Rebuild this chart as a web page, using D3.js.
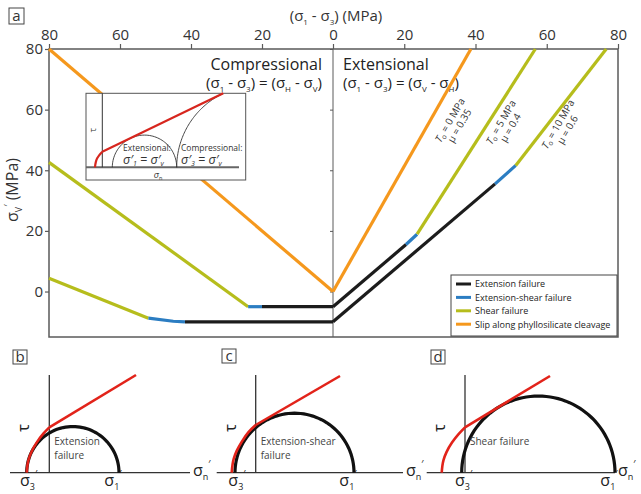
<!DOCTYPE html>
<html>
<head>
<meta charset="utf-8">
<script src="https://cdn.jsdelivr.net/npm/d3@7"></script>
<style>
body { margin: 0; background: #fff; }
svg { font-family: "Open Sans", sans-serif; }
</style>
</head>
<body>
<svg id="chart" width="641" height="494"></svg>
<script>
// tick labels of panel a
const compTicks = [80, 60, 40, 20, 0];
const extTicks = [20, 40, 60, 80];
const yTicks = [0, 20, 40, 60, 80];

// failure types in legend order
const failureTypes = ['Extension failure', 'Extension-shear failure', 'Shear failure', 'Slip along phyllosilicate cleavage'];
const failureColors = ['#1c1c1c', '#2b7dc2', '#b6bd1c', '#f5981d'];

// segments: [side, type, points as (σ1-σ3, σv')]
const segT0 = [
  ['comp', 3, [[80, 80], [0, 0]]],
  ['ext', 3, [[0, 0], [38.7, 80]]]
];
const segT5 = [
  ['comp', 2, [[80, 42.6], [23.9, -5]]],
  ['comp', 1, [[23.9, -5], [20, -5]]],
  ['comp', 0, [[20, -5], [0, -5]]],
  ['ext', 0, [[0, -5], [20.5, 15.5]]],
  ['ext', 1, [[20.5, 15.5], [23.6, 18.9]]],
  ['ext', 2, [[23.6, 18.9], [56.8, 80]]]
];
const segT10 = [
  ['comp', 2, [[80, 4.4], [52, -8.8]]],
  ['comp', 1, [[52, -8.8], [45, -9.8], [41.7, -10]]],
  ['comp', 0, [[41.7, -10], [0, -10]]],
  ['ext', 0, [[0, -10], [45.5, 35.5]]],
  ['ext', 1, [[45.5, 35.5], [51.3, 41.6]]],
  ['ext', 2, [[51.3, 41.6], [76.7, 80]]]
];
// line labels (T0, mu)
const lineT0 = ['0', '5', '10'];
const lineMu = ['0.35', '0.4', '0.6'];

// inset: envelope and Mohr circles (σn', τ)
const insetEnv = [[-7.3, 0], [-6.5, 5.2], [-5, 9.2], [-3, 12.2], [0, 15.6]];
const insetEnvEnd = [121, 74];
const insetCircleExt = [10, 74.4];
const insetCircleComp = [74.4, 238.4];

// panels b, c, d
const panelNames = ['b', 'c', 'd'];
const panelText = [['Extension', 'failure'], ['Extension-shear', 'failure'], ['Shear failure']];
const circleS3 = [-22.6, -20.7, -3.3];
const circleS1 = [69.7, 98.3, 150];
const envB = [[-22.6, 0], [-21, 12.1], [-18, 20.5], [-13, 29.6], [-6, 39.1], [0, 45.4], [86.7, 97.7]];
const envC = [[-24, 0], [-22, 13.8], [-19, 21.8], [-14, 30.8], [-7, 40.8], [0, 47.7], [84.3, 96.7]];
const envD = [[-23.3, 0], [-21.5, 12.6], [-18.5, 20.6], [-13, 30.2], [-6, 39.1], [0, 45.4], [85, 96.7]];

const svg = d3.select('#chart');
const grey = '#5a5a5a';

// ---------- panel a ----------
const xComp = d3.scaleLinear().domain([80, 0]).range([49, 333]);
const xExt = d3.scaleLinear().domain([0, 80]).range([333, 618]);
const y = d3.scaleLinear().domain([-15, 80]).range([337, 49]);

svg.append('rect')
  .attr('x', 49).attr('y', 49).attr('width', 569).attr('height', 288)
  .attr('fill', 'none').attr('stroke', grey).attr('stroke-width', 1.5);

function styleAxis(g) {
  g.select('.domain').remove();
  g.selectAll('line').attr('stroke', grey).attr('stroke-width', 1.2);
  g.selectAll('text').attr('font-size', 15).attr('fill', '#333').attr('font-family', 'Open Sans');
}
svg.append('g').attr('transform', 'translate(0,49)')
  .call(d3.axisTop(xComp).tickValues(compTicks).tickSize(5).tickPadding(4)).call(styleAxis);
svg.append('g').attr('transform', 'translate(0,49)')
  .call(d3.axisTop(xExt).tickValues(extTicks).tickSize(5).tickPadding(4)).call(styleAxis);
svg.append('g').attr('transform', 'translate(49,0)')
  .call(d3.axisLeft(y).tickValues(yTicks).tickSize(4).tickPadding(2)).call(styleAxis);
// centre axis
svg.append('line').attr('x1', 333).attr('x2', 333).attr('y1', 49).attr('y2', 337)
  .attr('stroke', grey).attr('stroke-width', 1);
svg.append('g').attr('transform', 'translate(333,0)')
  .call(d3.axisLeft(y).tickValues(yTicks).tickSize(3).tickFormat(''))
  .call(g => { g.select('.domain').remove(); g.selectAll('line').attr('stroke', grey); });

// titles
const xTitle = svg.append('text').attr('x', 336).attr('y', 21).attr('text-anchor', 'middle')
  .attr('font-size', 15).attr('fill', '#333');
xTitle.append('tspan').text('(σ');
xTitle.append('tspan').text('1').attr('font-size', 8).attr('dy', 4);
xTitle.append('tspan').text(' - σ').attr('dy', -4);
xTitle.append('tspan').text('3').attr('font-size', 8).attr('dy', 4);
xTitle.append('tspan').text(')  (MPa)').attr('dy', -4);

const yTitle = svg.append('text').attr('transform', 'translate(18,190) rotate(-90)')
  .attr('text-anchor', 'middle').attr('font-size', 16).attr('fill', '#333');
yTitle.append('tspan').text('σ');
yTitle.append('tspan').text('V').attr('font-size', 9).attr('dy', 4);
yTitle.append('tspan').text('′').attr('font-size', 10).attr('dy', -10);
yTitle.append('tspan').text(' (MPa)').attr('dy', 6);

function boxLabel(x, yy, letter) {
  svg.append('rect').attr('x', x).attr('y', yy).attr('width', 15).attr('height', 16)
    .attr('fill', 'none').attr('stroke', '#444').attr('stroke-width', 1);
  svg.append('text').attr('x', x + 7.5).attr('y', yy + 12.5).attr('text-anchor', 'middle')
    .attr('font-size', 15).attr('fill', '#333').text(letter);
}
boxLabel(9, 8, 'a');

function stressEq(x, yy, anchor, a, b) {
  const t = svg.append('text').attr('x', x).attr('y', yy).attr('text-anchor', anchor)
    .attr('font-size', 15).attr('fill', '#222');
  t.append('tspan').text('(σ');
  t.append('tspan').text('1').attr('font-size', 8).attr('dy', 4);
  t.append('tspan').text(' - σ').attr('dy', -4);
  t.append('tspan').text('3').attr('font-size', 8).attr('dy', 4);
  t.append('tspan').text(') = (σ').attr('dy', -4);
  t.append('tspan').text(a).attr('font-size', 8).attr('dy', 4);
  t.append('tspan').text(' - σ').attr('dy', -4);
  t.append('tspan').text(b).attr('font-size', 8).attr('dy', 4);
  t.append('tspan').text(')').attr('dy', -4);
}
svg.append('text').attr('x', 322).attr('y', 70).attr('text-anchor', 'end')
  .attr('font-size', 16).attr('fill', '#222').text('Compressional');
stressEq(322, 88, 'end', 'H', 'V');
svg.append('text').attr('x', 343).attr('y', 70)
  .attr('font-size', 16).attr('fill', '#222').text('Extensional');
stressEq(343, 88, 'start', 'V', 'H');

// failure lines
const lineGen = side => d3.line()
  .x(d => (side === 'comp' ? xComp : xExt)(d[0]))
  .y(d => y(d[1]));
[segT0, segT5, segT10].forEach(segs => {
  segs.forEach(([side, type, pts]) => {
    svg.append('path').attr('d', lineGen(side)(pts))
      .attr('fill', 'none').attr('stroke', failureColors[type])
      .attr('stroke-width', 3.2).attr('stroke-linecap', 'butt').attr('stroke-linejoin', 'round');
  });
});

// rotated line labels
const labelPos = [[453, 122], [504, 124], [561, 126]];
labelPos.forEach((p, i) => {
  const g = svg.append('g').attr('transform', `translate(${p[0]},${p[1]}) rotate(-60)`);
  const t1 = g.append('text').attr('text-anchor', 'middle').attr('font-size', 10).attr('fill', '#333');
  t1.append('tspan').text('T').attr('font-style', 'italic');
  t1.append('tspan').text('o').attr('font-size', 7).attr('dy', 2);
  t1.append('tspan').text(` = ${lineT0[i]} MPa`).attr('dy', -2);
  g.append('text').attr('text-anchor', 'middle').attr('y', 11).attr('font-size', 10).attr('fill', '#333')
    .text(`μ = ${lineMu[i]}`);
});

// inset
const ix = d3.scaleLinear().domain([0, 100]).range([102.3, 202.3]);
const iy = d3.scaleLinear().domain([0, 100]).range([167.3, 67.3]);
svg.append('rect').attr('x', 86).attr('y', 93.3).attr('width', 159.7).attr('height', 86.7)
  .attr('fill', '#fff').attr('stroke', '#555').attr('stroke-width', 1);
svg.append('line').attr('x1', 86).attr('x2', 239).attr('y1', iy(0)).attr('y2', iy(0))
  .attr('stroke', '#666').attr('stroke-width', 2);
svg.append('line').attr('x1', ix(0)).attr('x2', ix(0)).attr('y1', 93.3).attr('y2', iy(0))
  .attr('stroke', '#333').attr('stroke-width', 1);
const arc = (c, start, end) => {
  const cx = (c[0] + c[1]) / 2, r = (c[1] - c[0]) / 2;
  return d3.range(start, end - 0.01, (end - start) / 60).concat([end])
    .map(a => [cx + r * Math.cos(a * Math.PI / 180), r * Math.sin(a * Math.PI / 180)]);
};
const iLine = d3.line().x(d => ix(d[0])).y(d => iy(d[1]));
svg.append('path').attr('d', iLine(arc(insetCircleExt, 180, 0)))
  .attr('fill', 'none').attr('stroke', '#333').attr('stroke-width', 0.9);
svg.append('path').attr('d', iLine(arc(insetCircleComp, 180, 115.8)))
  .attr('fill', 'none').attr('stroke', '#333').attr('stroke-width', 0.9);
svg.append('path').attr('d', d3.line().x(d => ix(d[0])).y(d => iy(d[1])).curve(d3.curveMonotoneY)(insetEnv))
  .attr('fill', 'none').attr('stroke', '#d7261e').attr('stroke-width', 2.2);
svg.append('path').attr('d', iLine([insetEnv[insetEnv.length - 1], insetEnvEnd]))
  .attr('fill', 'none').attr('stroke', '#d7261e').attr('stroke-width', 2.2);
svg.append('text').attr('transform', 'translate(96,130) rotate(-90)').attr('text-anchor', 'middle')
  .attr('font-size', 9).attr('fill', '#333').text('τ');
const isn = svg.append('text').attr('x', 158).attr('y', 178).attr('text-anchor', 'middle')
  .attr('font-size', 9).attr('fill', '#333');
isn.append('tspan').text('σ').attr('font-style', 'italic');
isn.append('tspan').text('n').attr('font-size', 5.5).attr('dy', 1.5);
function insetEq(x, title, sub) {
  svg.append('text').attr('x', x).attr('y', 151).attr('font-size', 8.5).attr('fill', '#333').text(title);
  const t = svg.append('text').attr('x', x).attr('y', 164).attr('font-size', 12.5)
    .attr('font-style', 'italic').attr('fill', '#333');
  t.append('tspan').text('σ′');
  t.append('tspan').text(sub).attr('font-size', 7).attr('dy', 2);
  t.append('tspan').text(' = σ′').attr('dy', -2);
  t.append('tspan').text('v').attr('font-size', 7).attr('dy', 2);
}
insetEq(123, 'Extensional:', '1');
insetEq(181, 'Compressional:', '3');

// legend
svg.append('rect').attr('x', 451).attr('y', 275).attr('width', 166).attr('height', 61)
  .attr('fill', '#fff').attr('stroke', '#444').attr('stroke-width', 1);
failureTypes.forEach((t, i) => {
  const ly = 284 + i * 13.4;
  svg.append('line').attr('x1', 456).attr('x2', 471).attr('y1', ly).attr('y2', ly)
    .attr('stroke', failureColors[i]).attr('stroke-width', 3);
  svg.append('text').attr('x', 475).attr('y', ly + 3.3).attr('font-size', 9)
    .attr('fill', '#222').text(t);
});

// ---------- panels b, c, d ----------
const panelOrigin = [49.3, 255.7, 465];
const panelAxis = [[10, 190], [216.7, 403], [426.7, 615]];
const panelBox = [[13, 350], [222, 349], [431, 350]];
const envs = [envB, envC, envD];
const baseY = 472.7;

function sigmaLabel(x, yy, sub, anchor) {
  const t = svg.append('text').attr('x', x).attr('y', yy).attr('text-anchor', anchor || 'middle')
    .attr('font-size', 16).attr('fill', '#222');
  t.append('tspan').text('σ');
  t.append('tspan').text(sub).attr('font-size', 9).attr('dy', 4);
  t.append('tspan').text('′').attr('font-size', 10).attr('dy', -12);
}

panelNames.forEach((name, i) => {
  const o = panelOrigin[i];
  const px = d3.scaleLinear().domain([0, 100]).range([o, o + 100]);
  const py = d3.scaleLinear().domain([0, 100]).range([baseY, baseY - 100]);
  const pl = d3.line().x(d => px(d[0])).y(d => py(d[1]));

  svg.append('rect').attr('x', panelBox[i][0]).attr('y', panelBox[i][1]).attr('width', 14).attr('height', 14)
    .attr('fill', 'none').attr('stroke', '#444').attr('stroke-width', 1);
  svg.append('text').attr('x', panelBox[i][0] + 7).attr('y', panelBox[i][1] + 12)
    .attr('text-anchor', 'middle').attr('font-size', 15).attr('fill', '#333').text(name);

  svg.append('line').attr('x1', panelAxis[i][0]).attr('x2', panelAxis[i][1])
    .attr('y1', baseY).attr('y2', baseY).attr('stroke', '#333').attr('stroke-width', 1.3);
  svg.append('line').attr('x1', o).attr('x2', o).attr('y1', 375).attr('y2', baseY)
    .attr('stroke', '#333').attr('stroke-width', 1.3);

  svg.append('path').attr('d', pl(arc([circleS3[i], circleS1[i]], 180, 0)))
    .attr('fill', 'none').attr('stroke', '#111').attr('stroke-width', 3.2);

  const env = envs[i];
  svg.append('path').attr('d', d3.line().x(d => px(d[0])).y(d => py(d[1])).curve(d3.curveMonotoneY)(env.slice(0, 6)))
    .attr('fill', 'none').attr('stroke', '#e2231a').attr('stroke-width', 2.6);
  svg.append('path').attr('d', pl(env.slice(5)))
    .attr('fill', 'none').attr('stroke', '#e2231a').attr('stroke-width', 2.6);

  svg.append('text').attr('transform', `translate(${o - 20},428) rotate(-90)`).attr('text-anchor', 'middle')
    .attr('font-size', 17).attr('fill', '#222').text('τ');

  panelText[i].forEach((s, k) => {
    svg.append('text').attr('x', o + 5).attr('y', 445 + k * 14).attr('font-size', 10)
      .attr('fill', '#444').text(s);
  });

  sigmaLabel(px(circleS3[i]) + 2, 486, '3');
  sigmaLabel(px(circleS1[i]) - 6, 486, '1');
  sigmaLabel(panelAxis[i][1] + 3, 476, 'n', 'start');
});
</script>
</body>
</html>
